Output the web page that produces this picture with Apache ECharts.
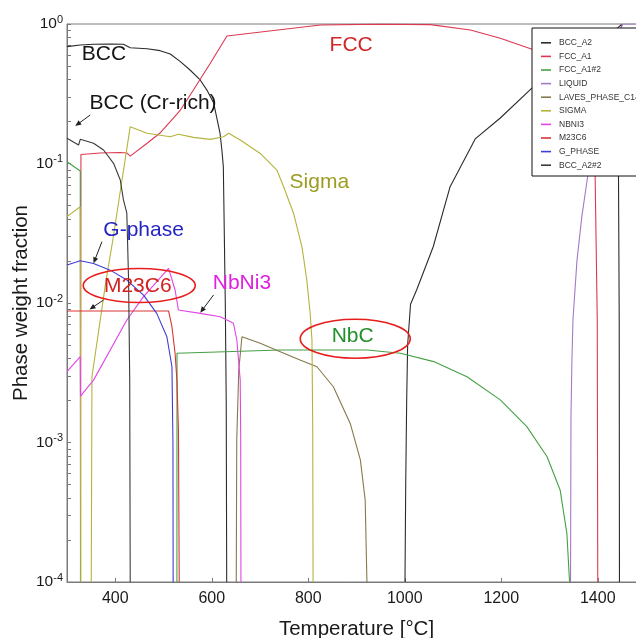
<!DOCTYPE html>
<html><head><meta charset="utf-8">
<script src="https://cdn.jsdelivr.net/npm/echarts@6/dist/echarts.min.js"></script>
<style>html,body{margin:0;padding:0;background:#fff}#c{width:636px;height:638px}</style>
</head><body><div id="c"></div>
<script>
// ---- data: [temperature °C, phase weight fraction] ----
const bccA2Low = [[300,0.688],[327.5,0.707],[355,0.715],[390,0.719],[417,0.715],[431,0.676],[466,0.665],[493,0.644],[514,0.609],[535,0.537],[555,0.468],[576,0.397],[590,0.336],[604,0.271],[610,0.216],[617,0.166],[621,0.125],[624,0.095],[625,0.055],[628,0.0105],[630,0.002],[631,0.0001]];
const bccA2High = [[1000.5,0.0001],[1002,0.0005],[1004,0.002],[1006,0.005],[1012,0.0098],[1025,0.0125],[1059,0.0253],[1094,0.0682],[1146,0.15],[1198,0.212],[1264,0.348],[1300,0.42],[1350,0.5],[1400,0.72],[1440,0.93],[1449,0.99],[1446,0.3],[1443,0.08],[1444.5,0.0075],[1445,0.0001]];
const fccA1 = [[328,0.0001],[328.9,0.116],[369,0.119],[410,0.12],[424,0.119],[431,0.113],[466,0.1396],[493,0.1655],[514,0.1995],[535,0.2417],[562,0.3365],[597,0.523],[631.5,0.82],[825,0.984],[950,0.998],[1053,0.99],[1136,0.906],[1198,0.79],[1264,0.659],[1300,0.58],[1344,0.45],[1380,0.25],[1394.6,0.08],[1399,0.0075],[1400,0.0001]];
const fccA1b = [[300,0.103],[327.5,0.0883],[328,0.0001]];
const nbc = [[527.8,0.0001],[528,0.00436],[742,0.0046],[783,0.0046],[922,0.0046],[991,0.00436],[1060,0.0038],[1129,0.00296],[1198,0.00202],[1253,0.0013],[1295,0.00079],[1322,0.000457],[1336,0.000223],[1341.6,0.0001]];
const liquid = [[1343.6,0.0001],[1344.5,0.00153],[1346.5,0.0039],[1348.6,0.00755],[1357,0.0203],[1367,0.0416],[1379,0.0804],[1400,0.2],[1430,0.5],[1446,0.9],[1452,1],[1500,1]];
const laves = [[650.8,0.0001],[651.8,0.00104],[656,0.00331],[662.6,0.00573],[700.5,0.00514],[742,0.00448],[783,0.0039],[818,0.00349],[852,0.00251],[887,0.00137],[908,0.00075],[918,0.000387],[921.6,0.0001]];
const sigmaLow = [[300,0.0416],[327.5,0.049],[328.5,0.0001]];
const sigma = [[350.3,0.0001],[351.7,0.00296],[381,0.0146],[395,0.0283],[414,0.0762],[431,0.1836],[466,0.1646],[514,0.1556],[531,0.162],[562,0.154],[597,0.149],[624.5,0.1556],[635,0.1646],[659,0.1474],[700.5,0.118],[735,0.0898],[749,0.0682],[769.5,0.044],[787,0.0253],[797,0.0146],[804,0.0084],[807.7,0.00543],[809.3,0.00123],[810,0.0001]];
const nbni3 = [[300,0.00322],[327.5,0.00412],[328,0.00215],[355,0.0028],[424,0.00755],[458.6,0.0111],[510.5,0.0177],[514,0.0177],[524,0.0124],[531,0.0089],[576,0.00843],[617.6,0.00798],[645,0.00715],[652,0.00543],[659,0.0028],[660,0.0011],[660.5,0.0001]];
const m23c6 = [[300,0.00877],[510.5,0.00877],[517.5,0.00676],[524,0.00436],[527.8,0.0028],[531,0.00123],[532.6,0.0001]];
const gPhase = [[300,0.0187],[327.5,0.0201],[355,0.0192],[389.6,0.0172],[424,0.0146],[458.6,0.0114],[486,0.00843],[507,0.00573],[517.5,0.00349],[519.6,0.00099],[520,0.0001]];
const bccA2b = [[300,0.1516],[324,0.1357],[327.5,0.149],[355,0.1396],[375.8,0.125],[396.5,0.1003],[410.4,0.0762],[417,0.0548],[424,0.044],[427.6,0.0146],[430,0.0028],[431,0.0001]];

const legendNames = ['BCC_A2','FCC_A1','FCC_A1#2','LIQUID','LAVES_PHASE_C14','SIGMA','NBNI3','M23C6','G_PHASE','BCC_A2#2'];
const xTicks = [400,600,800,1000,1200,1400];
const yMajor = [1e-4,1e-3,1e-2,1e-1,1];

// annotations: text, temperature, fraction
const annotations = [['BCC',376.6,0.604],['BCC (Cr-rich)',478.3,0.2715],['FCC',889,0.707],['Sigma',823,0.0737],['G-phase',458.7,0.0334],['M23C6',446.6,0.01324],['NbNi3',662.6,0.0138],['NbC',892,0.0058]];
const ellipses = [[449.7,0.01334],[897.4,0.00554]];
const arrows = [[348.2,0.2228,317.1,0.1857],[372.4,0.0275,355,0.01926],[375.8,0.01051,346.7,0.0090],[603.7,0.01141,576.2,0.00852]];

// ---- styles ----
const colors = {'BCC_A2':'#2b2b2b','FCC_A1':'#dc3850','FCC_A1#2':'#45a045','LIQUID':'#a578c8','LAVES_PHASE_C14':'#857a4a','SIGMA':'#b4b43c','NBNI3':'#e344e6','M23C6':'#d83434','G_PHASE':'#3c3cd8','BCC_A2#2':'#3a3a3a'};
const annColors = {'BCC':'#151515','BCC (Cr-rich)':'#151515','FCC':'#d02828','Sigma':'#9c9c22','G-phase':'#2424c4','M23C6':'#d41f1f','NbNi3':'#e020e0','NbC':'#22902a'};
const ellipseRadii = [[56,17],[55,19.5]];
const FONT = '"Liberation Sans", Arial, sans-serif';

const yMinor = [];
yMajor.slice(0,-1).forEach(d=>{for(let k=1;k<=9;k++) yMinor.push(+(d*k).toPrecision(3));});
yMinor.push(1);

function line(name, data){
  return {name, type:'line', data, showSymbol:false, symbol:'none', color:colors[name],
    lineStyle:{width:1.1, color:colors[name]}, animation:false, clip:true, z:2};
}

const series = [
  line('BCC_A2', bccA2Low), line('BCC_A2', bccA2High),
  line('FCC_A1', fccA1),
  line('FCC_A1#2', fccA1b), line('FCC_A1#2', nbc),
  line('LIQUID', liquid),
  line('LAVES_PHASE_C14', laves),
  line('SIGMA', sigmaLow), line('SIGMA', sigma),
  line('NBNI3', nbni3),
  line('M23C6', m23c6),
  line('G_PHASE', gPhase),
  line('BCC_A2#2', bccA2b),
  {type:'custom', coordinateSystem:'cartesian2d', silent:true, z:6, animation:false,
   data: arrows, encode:{x:0,y:1},
   renderItem(params, api){
     const p1 = api.coord([api.value(0), api.value(1)]);
     const p2 = api.coord([api.value(2), api.value(3)]);
     const dx=p2[0]-p1[0], dy=p2[1]-p1[1], L=Math.hypot(dx,dy);
     const ux=dx/L, uy=dy/L, nx=-uy, ny=ux, h=6, w=2.6;
     return {type:'group', children:[
       {type:'line', shape:{x1:p1[0],y1:p1[1],x2:p2[0]-ux*3,y2:p2[1]-uy*3}, style:{stroke:'#222', lineWidth:1}},
       {type:'polygon', shape:{points:[[p2[0],p2[1]],[p2[0]-ux*h+nx*w,p2[1]-uy*h+ny*w],[p2[0]-ux*h-nx*w,p2[1]-uy*h-ny*w]]}, style:{fill:'#222'}}
     ]};
   }},
  {type:'custom', coordinateSystem:'cartesian2d', silent:true, z:6, animation:false,
   data: ellipses,
   renderItem(params, api){
     const p = api.coord([api.value(0), api.value(1)]);
     const r = ellipseRadii[params.dataIndex];
     return {type:'ellipse', shape:{cx:p[0], cy:p[1], rx:r[0], ry:r[1]}, style:{fill:null, stroke:'#e81e1e', lineWidth:1.6}};
   }},
  {type:'custom', coordinateSystem:'cartesian2d', silent:true, z:7, animation:false,
   data: annotations.map(a=>[a[1],a[2]]),
   renderItem(params, api){
     const a = annotations[params.dataIndex];
     const p = api.coord([api.value(0), api.value(1)]);
     return {type:'text', x:p[0], y:p[1], style:{text:a[0], fill:annColors[a[0]], font:'21px '+FONT, align:'center', verticalAlign:'middle'}};
   }}
];

const chart = echarts.init(document.getElementById('c'), null, {renderer:'canvas'});
chart.setOption({
  animation:false,
  backgroundColor:'#fff',
  grid:{left:67, right:-10, top:24, bottom:56, show:true, borderColor:'#7a7a7a', borderWidth:1, containLabel:false, outerBoundsMode:'none'},
  legend:{data:legendNames, orient:'vertical', left:532, top:28, icon:'rect', itemWidth:10, itemHeight:1.6,
    itemGap:4, padding:[10,12,6,9], backgroundColor:'#fff', borderColor:'#111', borderWidth:1, borderRadius:0,
    selectedMode:false, z:10, zlevel:1,
    textStyle:{fontSize:8.5, fontFamily:FONT, color:'#333', lineHeight:9.6, padding:[0,0,0,3]}},
  xAxis:{type:'value', min:300, max:1500,
    name:'Temperature [°C]', nameLocation:'middle', nameGap:37, nameMoveOverlap:false,
    nameTextStyle:{fontSize:20.5, fontFamily:FONT, color:'#1a1a1a'},
    axisLine:{show:true, onZero:false, lineStyle:{color:'#7a7a7a', width:1}},
    axisTick:{show:true, inside:true, length:4, customValues:xTicks, lineStyle:{color:'#7a7a7a'}},
    axisLabel:{customValues:xTicks, fontSize:16, fontFamily:FONT, color:'#1a1a1a', margin:9,
      formatter:function(v){return String(v);}},
    splitLine:{show:false}},
  yAxis:{type:'log', logBase:10, min:1e-4, max:1,
    name:'Phase weight fraction', nameLocation:'middle', nameGap:35, nameMoveOverlap:false,
    nameTextStyle:{fontSize:20.5, fontFamily:FONT, color:'#1a1a1a'},
    axisLine:{show:true, lineStyle:{color:'#7a7a7a', width:1}},
    axisTick:{show:true, inside:true, length:4, customValues:yMinor, lineStyle:{color:'#7a7a7a'}},
    axisLabel:{customValues:yMajor, margin:4, fontFamily:FONT, color:'#1a1a1a',
      formatter:function(v){const e=Math.round(Math.log10(v)); return '{b|10}{s|'+e+'}';},
      rich:{b:{fontSize:15.5, fontFamily:FONT, color:'#1a1a1a', lineHeight:20},
            s:{fontSize:11, fontFamily:FONT, color:'#1a1a1a', verticalAlign:'top', lineHeight:11}}},
    splitLine:{show:false}, minorTick:{show:false}},
  series
});
</script></body></html>
